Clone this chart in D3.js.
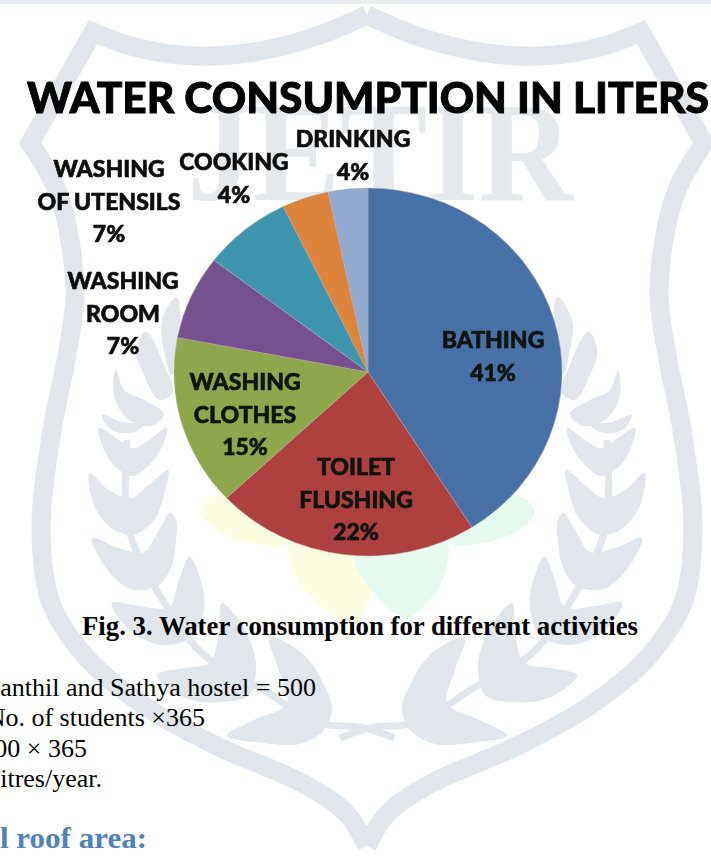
<!DOCTYPE html>
<html><head><meta charset="utf-8">
<script src="https://cdn.jsdelivr.net/npm/d3@7"></script>
<style>html,body{margin:0;padding:0;background:#fff;overflow:hidden}svg{display:block}</style>
</head><body><svg id="c" width="711" height="858"></svg>
<script>
// ---- data ----
const categories = ["BATHING","TOILET FLUSHING","WASHING CLOTHES","WASHING ROOM","WASHING OF UTENSILS","COOKING","DRINKING"];
const shares = [41, 22, 15, 7.4, 7.4, 3.9, 3.3];
const percentLabels = ["41%","22%","15%","7%","7%","4%","4%"];
const labelLines = [["BATHING"],["TOILET","FLUSHING"],["WASHING","CLOTHES"],["WASHING","ROOM"],["WASHING","OF UTENSILS"],["COOKING"],["DRINKING"]];
const sliceColors = ["#4771a7","#ae403f","#8ea74c","#75528f","#3f95ae","#dc843c","#92a9d0"];
const chartTitle = "WATER CONSUMPTION IN LITERS";
const caption = "Fig. 3. Water consumption for different activities";
const bodyLines = ["anthil and Sathya hostel = 500","No. of students ×365","500 × 365","litres/year."];
const heading = "l roof area:";

// ---- layout ----
const W = 711, H = 858, cx = 368, cy = 372, ry = 184, rx = 194;
const labelCenters = [[493,348],[356,475],[245,390],[123,289],[109,177],[234,170],[353,147]];
const lineStep = 32.5;
const svg = d3.select("#c");
const defs = svg.append("defs");
defs.append("filter").attr("id","soft").append("feGaussianBlur").attr("stdDeviation",0.6);

// ---- page watermark ----
const wmColor = "#e0e6eb";
svg.append("rect").attr("width",W).attr("height",4).attr("fill","#e9edf1");
const wm = svg.append("g");
const mirrors = [wm.append("g"), wm.append("g").attr("transform","translate(734,0) scale(-1,1)")];
const cr = d3.line().curve(d3.curveCatmullRom.alpha(0.5));
const closed = d3.line().curve(d3.curveCatmullRomClosed.alpha(0.5));
const leafLine = d3.line().curve(d3.curveCatmullRomClosed.alpha(1));
const shieldTop = [[367,15],[420,37],[480,52],[540,56],[600,47],[641,32]];
const shieldShoulder = [[641,32],[704,143]];
const shieldSide = [[704,143],[675,195],[659,290],[668,360],[682,430],[693,530],[683,603],[648,657],[588,707],[515,747],[432,783],[388,813],[367,846]];
const shieldPath = cr(shieldTop) + "L" + shieldShoulder[1].join(",") + cr(shieldSide).replace(/^M/,"L");
const stem = [[607,440],[605,530],[565,610],[530,655],[470,690],[420,722],[370,728],[340,738]];
const leaves = [
 [[402,708],[410,685],[430,655],[465,637],[455,670],[447,703],[480,720],[507,735],[470,743],[435,744],[410,730]],
 [[478,670],[484,640],[495,620],[512,603],[515,630],[525,663],[550,668],[577,675],[555,695],[510,702],[485,695]],
 [[530,610],[532,585],[545,557],[555,580],[565,607],[595,606],[622,603],[605,630],[565,645],[540,635]],
 [[558,540],[558,520],[562,513],[575,530],[590,552],[615,548],[642,538],[630,565],[600,590],[575,585],[562,565]],
 [[566,470],[585,485],[603,498],[625,490],[644,473],[640,505],[620,530],[602,535],[580,520],[570,495]],
 [[567,428],[585,440],[600,448],[615,440],[635,428],[630,450],[615,470],[602,476],[585,465],[572,447]],
 [[558,297],[572,320],[570,350],[562,375],[555,360],[553,330]],
 [[590,332],[597,350],[590,375],[572,400],[563,395],[570,365]],
 [[618,370],[620,395],[605,420],[580,425],[570,415],[590,400],[610,390]],
 [[632,415],[625,428],[600,432],[590,425],[612,422]]
];
mirrors.forEach(g => {
  g.append("path").attr("d",shieldPath).attr("fill","none").attr("stroke",wmColor).attr("stroke-width",19).attr("stroke-linejoin","miter");
  g.append("path").attr("d",cr(stem)).attr("fill","none").attr("stroke",wmColor).attr("stroke-width",7);
  g.selectAll("path.leaf").data(leaves).join("path").attr("class","leaf").attr("d",d=>leafLine(d)).attr("fill",wmColor);
});
wm.append("text").attr("x",380).attr("y",200).attr("text-anchor","middle")
  .attr("font-family","Liberation Serif").attr("font-weight",700).attr("font-size",142).attr("fill","#e4e9ed")
  .attr("textLength",386).attr("lengthAdjust","spacingAndGlyphs").text("JETIR");

// flower behind the pie
const petals = [
 {c:"#fdfde2",p:[[200,512],[225,490],[300,520],[285,545],[250,543],[222,533]]},
 {c:"#fdfde2",p:[[290,540],[367,556],[372,590],[350,625],[320,605],[298,580]]},
 {c:"#e6faef",p:[[355,556],[445,540],[446,570],[430,600],[405,617],[368,585]]},
 {c:"#e6faef",p:[[450,520],[515,495],[535,512],[510,535],[450,543]]}
];
svg.append("g").selectAll("path").data(petals).join("path").attr("d",d=>closed(d.p)).attr("fill",d=>d.c);

// ---- pie ----
const pie = d3.pie().sort(null).startAngle(0).endAngle(2*Math.PI);
const arc = d3.arc().innerRadius(0).outerRadius(ry);
const data = categories.map((c,i)=>({c, v:shares[i], i}));
svg.append("g").attr("transform",`translate(${cx},${cy}) scale(${rx/ry},1)`)
  .selectAll("path").data(pie.value(d=>d.v)(data)).join("path")
  .attr("d",arc).attr("fill",d=>sliceColors[d.data.i])
  .attr("stroke","#b9a9a0").attr("stroke-width",0.7).attr("stroke-opacity",0.7);

// ---- text ----
svg.append("text").attr("x",27).attr("y",113).attr("font-family","Lato").attr("font-weight",900)
  .attr("font-size",42).attr("fill","#000").attr("stroke","#000").attr("stroke-width",0.9)
  .attr("textLength",682).attr("lengthAdjust","spacingAndGlyphs")
  .attr("filter","url(#soft)").text(chartTitle);

const lab = svg.append("g").attr("font-family","Lato").attr("font-weight",900).attr("font-size",23)
  .attr("text-anchor","middle").attr("filter","url(#soft)").attr("stroke-width",0.6);
categories.forEach((c,i)=>{
  const [x,y] = labelCenters[i];
  const fill = i<3 ? "#0e1410" : "#0a0a0a";
  const rows = labelLines[i].concat(percentLabels[i]);
  lab.selectAll(null).data(rows).join("text")
    .attr("x",x).attr("y",(d,k)=>y+k*lineStep).attr("fill",fill).attr("stroke",fill).text(d=>d);
});

svg.append("text").attr("x",82).attr("y",635).attr("font-family","Liberation Serif").attr("font-weight",700)
  .attr("font-size",27).attr("fill","#000").attr("textLength",556).attr("lengthAdjust","spacingAndGlyphs").text(caption);

const bodyEnds = [316,205,87,102], bodyBase = [696,726,757,787];
svg.append("g").attr("font-family","Liberation Serif").attr("font-size",26).attr("fill","#000").attr("text-anchor","end")
  .selectAll("text").data(bodyLines).join("text")
  .attr("x",(d,i)=>bodyEnds[i]).attr("y",(d,i)=>bodyBase[i]).text(d=>d);

svg.append("text").attr("x",0).attr("y",848).attr("font-family","Liberation Serif")
  .attr("font-weight",700).attr("font-size",30).attr("fill","#4f81bd")
  .attr("textLength",147).attr("lengthAdjust","spacingAndGlyphs").text(heading);
</script></body></html>
